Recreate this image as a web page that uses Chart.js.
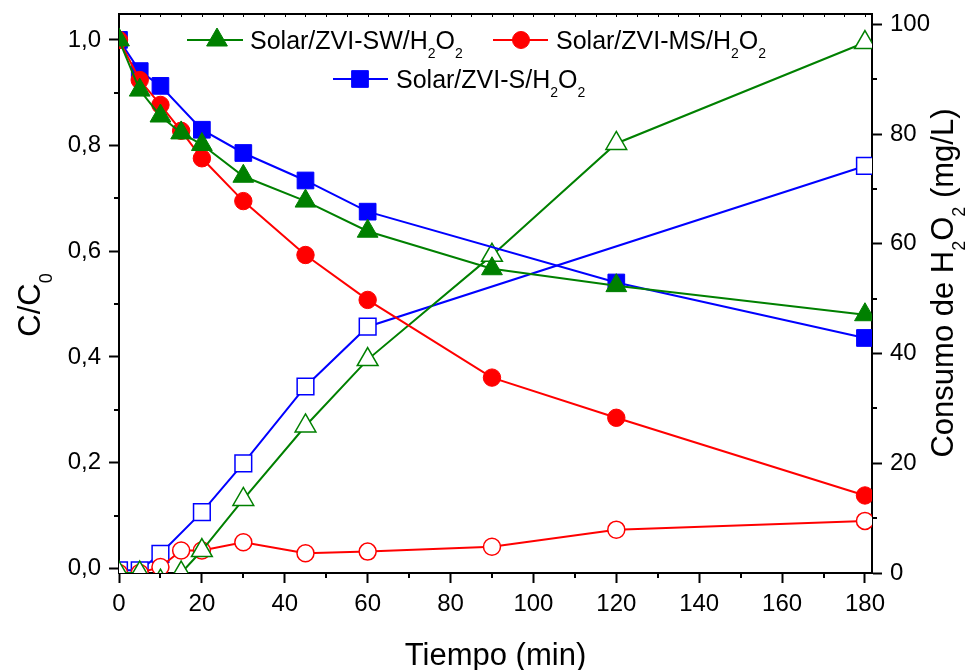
<!DOCTYPE html>
<html>
<head>
<meta charset="utf-8">
<script src="https://cdn.jsdelivr.net/npm/chart.js@4"></script>
<style>
  html, body { margin: 0; padding: 0; background: #fff; }
</style>
</head>
<body>
<canvas id="chart" width="975" height="670"></canvas>
<script>
// ---- data ----
const tiempo = [0, 5, 10, 15, 20, 30, 45, 60, 90, 120, 180];
const tiempoS = [0, 5, 10, 20, 30, 45, 60, 120, 180];
const tiempoSConsumo = [0, 5, 10, 20, 30, 45, 60, 180];

// C/C0 (left axis)
const ccoSW = [1.0, 0.905, 0.856, 0.824, 0.802, 0.742, 0.695, 0.638, 0.567, 0.535, 0.480];
const ccoMS = [1.0, 0.924, 0.877, 0.828, 0.776, 0.695, 0.593, 0.508, 0.361, 0.285, 0.138];
const ccoS = [1.0, 0.941, 0.913, 0.830, 0.786, 0.734, 0.675, 0.541, 0.436];

// H2O2 consumption, mg/L (right axis)
const consumoSW = [0, 0, -1.5, 0, 4.1, 13.4, 26.8, 38.9, 57.9, 78.3, 96.7];
const consumoMS = [0, 0, 1.1, 4.1, 4.1, 5.6, 3.6, 3.9, 4.8, 7.9, 9.5];
const consumoS = [0.5, 0.5, 3.5, 11.1, 20.0, 34.0, 44.9, 74.2];

const xTicks = [0, 20, 40, 60, 80, 100, 120, 140, 160, 180];
const xMinor = [10, 30, 50, 70, 90, 110, 130, 150, 170];
const yTicks = [0, 0.2, 0.4, 0.6, 0.8, 1.0];
const yMinor = [0.1, 0.3, 0.5, 0.7, 0.9];
const y1Ticks = [0, 20, 40, 60, 80, 100];
const y1Minor = [10, 30, 50, 70, 90];

const GREEN = '#008000', RED = '#ff0000', BLUE = '#0000ff';
const FONT = '"Liberation Sans", Arial, sans-serif';

function pts(xs, ys) {
    return xs.map((x, i) => ({ x: x, y: ys[i] }));
}

function series(label, xs, ys, color, style, radius, filled, axis) {
    return {
        label: label,
        data: pts(xs, ys),
        yAxisID: axis,
        borderColor: color,
        borderWidth: 2,
        tension: 0,
        fill: false,
        clip: 0,
        pointStyle: style,
        pointRadius: radius,
        pointHoverRadius: radius,
        pointBackgroundColor: filled ? color : '#ffffff',
        pointBorderColor: color,
        pointBorderWidth: filled ? 1 : 1.5
    };
}

// text with subscripts: parts = [[text, isSub], ...]
function richWidth(ctx, parts, size) {
    let w = 0;
    parts.forEach(p => {
        ctx.font = (p[1] ? Math.round(size * 0.58) : size) + 'px ' + FONT;
        w += ctx.measureText(p[0]).width;
    });
    return w;
}
function drawRich(ctx, parts, size, x, y, align) {
    const w = richWidth(ctx, parts, size);
    let cx = align === 'left' ? x : x - w / 2;
    ctx.textAlign = 'left';
    ctx.textBaseline = 'alphabetic';
    parts.forEach(p => {
        const s = p[1] ? Math.round(size * 0.58) : size;
        ctx.font = s + 'px ' + FONT;
        ctx.fillText(p[0], cx, p[1] ? y + size * 0.38 : y);
        cx += ctx.measureText(p[0]).width;
    });
}

function marker(ctx, style, x, y, r, color) {
    ctx.fillStyle = color;
    ctx.strokeStyle = color;
    ctx.lineWidth = 1;
    ctx.beginPath();
    if (style === 'triangle') {
        ctx.moveTo(x, y - r);
        ctx.lineTo(x + r * 0.866, y + r / 2);
        ctx.lineTo(x - r * 0.866, y + r / 2);
        ctx.closePath();
    } else if (style === 'circle') {
        ctx.arc(x, y, r, 0, Math.PI * 2);
    } else {
        const h = r * Math.SQRT1_2;
        ctx.rect(x - h, y - h, 2 * h, 2 * h);
    }
    ctx.fill();
    ctx.stroke();
}

const decor = {
    id: 'decor',
    afterDraw(chart) {
        const ctx = chart.ctx, a = chart.chartArea;
        const sx = chart.scales.x, sy = chart.scales.y, sy1 = chart.scales.y1;
        ctx.save();
        ctx.strokeStyle = '#000';
        ctx.lineWidth = 2;
        ctx.beginPath();
        // top frame
        ctx.moveTo(a.left - 1, a.top);
        ctx.lineTo(a.right + 1, a.top);
        // minor ticks
        xMinor.forEach(v => {
            const px = Math.round(sx.getPixelForValue(v));
            ctx.moveTo(px, a.bottom);
            ctx.lineTo(px, a.bottom + 5);
        });
        yMinor.forEach(v => {
            const py = Math.round(sy.getPixelForValue(v));
            ctx.moveTo(a.left, py);
            ctx.lineTo(a.left - 5, py);
        });
        y1Minor.forEach(v => {
            const py = Math.round(sy1.getPixelForValue(v));
            ctx.moveTo(a.right, py);
            ctx.lineTo(a.right + 5, py);
        });
        ctx.stroke();
        // small inner ticks on top frame
        ctx.lineWidth = 1;
        ctx.beginPath();
        for (let v = 5; v < 181; v += 5) {
            const px = Math.round(sx.getPixelForValue(v)) + 0.5;
            ctx.moveTo(px, a.top);
            ctx.lineTo(px, a.top + 3);
        }
        ctx.stroke();

        // axis titles
        ctx.fillStyle = '#000';
        drawRich(ctx, [['Tiempo (min)', false]], 31, (a.left + a.right) / 2, 665);
        ctx.save();
        ctx.translate(40, 305);
        ctx.rotate(-Math.PI / 2);
        drawRich(ctx, [['C/C', false], ['0', true]], 31, 0, 0);
        ctx.restore();
        ctx.save();
        ctx.translate(953, 283);
        ctx.rotate(-Math.PI / 2);
        drawRich(ctx, [['Consumo de H', false], ['2', true], ['O', false], ['2', true], [' (mg/L)', false]], 31, 0, 0);
        ctx.restore();

        // legend
        const items = [
            { x1: 187, x2: 243, mx: 217, y: 40, style: 'triangle', r: 12, color: GREEN, tx: 250, name: 'Solar/ZVI-SW/H' },
            { x1: 493, x2: 548, mx: 521, y: 40, style: 'circle', r: 8.5, color: RED, tx: 556, name: 'Solar/ZVI-MS/H' },
            { x1: 333, x2: 388, mx: 360, y: 79, style: 'rect', r: 11.8, color: BLUE, tx: 396, name: 'Solar/ZVI-S/H' }
        ];
        items.forEach(it => {
            ctx.strokeStyle = it.color;
            ctx.lineWidth = 2;
            ctx.beginPath();
            ctx.moveTo(it.x1, it.y);
            ctx.lineTo(it.x2, it.y);
            ctx.stroke();
            marker(ctx, it.style, it.mx, it.y, it.r, it.color);
            ctx.fillStyle = '#000';
            drawRich(ctx, [[it.name, false], ['2', true], ['O', false], ['2', true]], 25, it.tx, it.y + 8.5, 'left');
        });
        ctx.restore();
    }
};

const tickFont = { family: FONT, size: 24 };
const axisGrid = { drawOnChartArea: false, drawTicks: true, tickLength: 10, tickWidth: 2, tickColor: '#000' };
const axisBorder = { display: true, color: '#000', width: 2 };

// vertical axes: no extra room for the top/bottom labels, the frame is fixed
function fitVertical(width) {
    return s => {
        s.width = width;
        s.paddingTop = 0;
        s.paddingBottom = 0;
    };
}

const config = {
    type: 'line',
    data: {
        datasets: [
            series('SW C/C0', tiempo, ccoSW, GREEN, 'triangle', 12, true, 'y'),
            series('MS C/C0', tiempo, ccoMS, RED, 'circle', 8.7, true, 'y'),
            series('S C/C0', tiempoS, ccoS, BLUE, 'rect', 11.8, true, 'y'),
            series('SW H2O2', tiempo, consumoSW, GREEN, 'triangle', 12, false, 'y1'),
            series('MS H2O2', tiempo, consumoMS, RED, 'circle', 8.5, false, 'y1'),
            series('S H2O2', tiempoSConsumo, consumoS, BLUE, 'rect', 11.8, false, 'y1')
        ]
    },
    options: {
        responsive: false,
        animation: false,
        layout: { padding: { top: 14, left: 0, right: 0, bottom: 0 } },
        plugins: {
            legend: { display: false },
            tooltip: { enabled: false }
        },
        scales: {
            x: {
                type: 'linear',
                min: 0,
                max: 181.7,
                afterBuildTicks: s => { s.ticks = xTicks.map(v => ({ value: v })); },
                afterFit: s => { s.height = 97; },
                grid: axisGrid,
                border: axisBorder,
                ticks: { color: '#000', font: tickFont, padding: 7, maxRotation: 0, autoSkip: false }
            },
            y: {
                type: 'linear',
                position: 'left',
                min: -0.0087,
                max: 1.049,
                afterBuildTicks: s => { s.ticks = yTicks.map(v => ({ value: v })); },
                afterFit: fitVertical(119),
                grid: axisGrid,
                border: axisBorder,
                ticks: {
                    color: '#000', font: tickFont, padding: 8,
                    callback: v => v.toFixed(1).replace('.', ',')
                }
            },
            y1: {
                type: 'linear',
                position: 'right',
                min: 0,
                max: 101.9,
                afterBuildTicks: s => { s.ticks = y1Ticks.map(v => ({ value: v })); },
                afterFit: fitVertical(103),
                grid: axisGrid,
                border: axisBorder,
                ticks: { color: '#000', font: tickFont, padding: 8 }
            }
        }
    },
    plugins: [decor]
};

const chart = new Chart(document.getElementById('chart').getContext('2d'), config);
</script>
</body>
</html>
